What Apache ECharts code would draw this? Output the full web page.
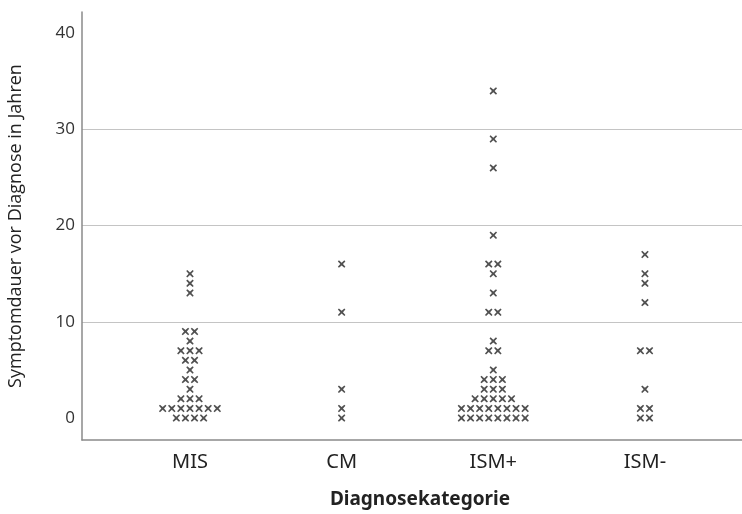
<!DOCTYPE html>
<html>
<head>
<meta charset="utf-8">
<script src="https://cdn.jsdelivr.net/npm/echarts@6/dist/echarts.min.js"></script>
<style>
  html, body { margin: 0; padding: 0; background: #fff; }
  #chart { width: 742px; height: 514px; }
</style>
</head>
<body>
<div id="chart"></div>
<script>
// Symptom duration before diagnosis (years), one entry per patient
const categories = ['MIS', 'CM', 'ISM+', 'ISM-'];
const misValues = [0, 0, 0, 0, 1, 1, 1, 1, 1, 1, 1, 2, 2, 2, 3, 4, 4, 5, 6, 6, 7, 7, 7, 8, 9, 9, 13, 14, 15];
const cmValues = [0, 1, 3, 11, 16];
const ismPlusValues = [0, 0, 0, 0, 0, 0, 0, 0, 1, 1, 1, 1, 1, 1, 1, 1, 2, 2, 2, 2, 2, 3, 3, 3, 4, 4, 4, 5, 7, 7, 8, 11, 11, 13, 15, 16, 16, 19, 26, 29, 34];
const ismMinusValues = [0, 0, 1, 1, 3, 7, 7, 12, 14, 15, 17];
const yTickValues = [0, 10, 20, 30, 40];

const groups = [misValues, cmValues, ismPlusValues, ismMinusValues];

// Dot plot: identical values are laid side by side, centred on the category
const dotStep = 0.06;
const points = [];
groups.forEach((vals, gi) => {
  const counts = {};
  vals.forEach(v => { counts[v] = (counts[v] || 0) + 1; });
  Object.keys(counts).forEach(key => {
    const n = counts[key];
    for (let k = 0; k < n; k++) {
      points.push([gi + 1 + (k - (n - 1) / 2) * dotStep, Number(key)]);
    }
  });
});

// Bold "×" marker
const crossPath = 'path://M1.4,0L5,3.2L8.6,0L10,1.4L6.8,5L10,8.6L8.6,10L5,6.8L1.4,10L0,8.6L3.2,5L0,1.4Z';
const textColor = '#222';

const chart = echarts.init(document.getElementById('chart'), null, { renderer: 'canvas' });
chart.setOption({
  animation: false,
  backgroundColor: '#ffffff',
  grid: { left: 82, right: 0, top: 12, bottom: 74, containLabel: false, outerBoundsMode: 'none' },
  xAxis: {
    type: 'value',
    min: 0.288,
    max: 4.64,
    axisLine: { show: true, onZero: false, lineStyle: { color: '#8a8a8a', width: 1.5 } },
    axisTick: { show: false },
    splitLine: { show: false },
    axisLabel: {
      customValues: [1, 2, 3, 4],
      formatter: v => categories[Math.round(v) - 1],
      fontFamily: 'Noto Sans',
      fontSize: 20,
      color: textColor,
      margin: 12
    },
    name: 'Diagnosekategorie',
    nameLocation: 'middle',
    nameGap: 50,
    nameTextStyle: {
      fontFamily: 'Noto Sans',
      fontWeight: 'bold',
      fontSize: 19,
      color: textColor,
      padding: [0, 0, 0, 16]
    }
  },
  yAxis: {
    type: 'value',
    min: -2.28,
    max: 42.2,
    axisLine: { show: true, onZero: false, lineStyle: { color: '#8a8a8a', width: 1.5 } },
    axisTick: { show: false, customValues: yTickValues },
    splitLine: {
      show: true,
      showMinLine: false,
      showMaxLine: false,
      lineStyle: { color: '#c4c4c4', width: 1 }
    },
    axisLabel: {
      customValues: yTickValues,
      fontFamily: 'Open Sans',
      fontSize: 17,
      color: '#333',
      margin: 7
    },
    name: 'Symptomdauer vor Diagnose in Jahren',
    nameLocation: 'middle',
    nameGap: 57,
    nameTextStyle: {
      fontFamily: 'Open Sans',
      fontSize: 18,
      color: textColor
    }
  },
  series: [{
    type: 'scatter',
    data: points,
    symbol: crossPath,
    symbolSize: 7.5,
    itemStyle: { color: '#262626' },
    silent: true
  }]
});
</script>
</body>
</html>
